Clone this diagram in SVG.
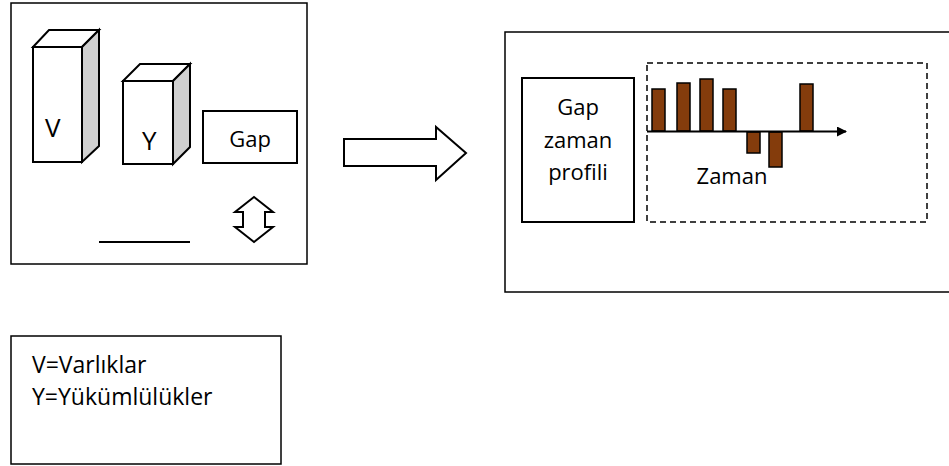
<svg xmlns="http://www.w3.org/2000/svg" width="949" height="466" viewBox="0 0 949 466">
<defs>
<style>
.box{fill:#fff;stroke:#000;stroke-width:1.5}
.sh{fill:#fff;stroke:#000;stroke-width:2;stroke-linejoin:miter}
.side{fill:#d0d0d0;stroke:#000;stroke-width:2}
.bar{fill:#843C0C;stroke:#000;stroke-width:1.5}
.t{font-family:"Open Sans","Noto Sans",sans-serif;fill:#000}
</style>
<marker id="ah" markerWidth="10" markerHeight="10" refX="9" refY="5" orient="auto" markerUnits="userSpaceOnUse">
<path d="M0,0 L10,5 L0,10 Z" fill="#000"/>
</marker>
</defs>
<rect width="949" height="466" fill="#fff"/>

<g id="left-panel">
<rect class="box" x="11" y="3" width="296" height="261"/>
</g>

<g id="box-V">
<path class="sh" d="M33,47 L49,30 L99,30 L82,47 Z"/>
<path class="side" d="M82,47 L99,30 L99,146 L82,162 Z"/>
<rect class="sh" x="33" y="47" width="49" height="115"/>
<text class="t" x="45" y="137" font-size="26">V</text>
</g>

<g id="box-Y">
<path class="sh" d="M123,81 L140,64 L190,64 L173,81 Z"/>
<path class="side" d="M173,81 L190,64 L190,147 L173,164 Z"/>
<rect class="sh" x="123" y="81" width="50" height="83"/>
<text class="t" x="142" y="150" font-size="26">Y</text>
</g>

<g id="box-Gap">
<rect class="sh" x="203" y="111" width="94" height="52"/>
<text class="t" x="250" y="147" font-size="22" text-anchor="middle">Gap</text>
</g>

<g id="updown-arrow">
<path class="sh" d="M254,197 L273,212 L265,212 L265,227 L273,227 L254,242 L235,227 L243,227 L243,212 L235,212 Z"/>
</g>

<g id="baseline">
<line x1="99" y1="242" x2="190" y2="242" stroke="#000" stroke-width="2"/>
</g>

<g id="big-arrow">
<path class="sh" d="M344,139 L436,139 L436,127 L466,153 L436,180 L436,166 L344,166 Z"/>
</g>

<g id="right-panel">
<rect class="box" x="505" y="32" width="460" height="260"/>
</g>

<g id="profile-box">
<rect class="sh" x="522" y="78" width="112" height="144"/>
<text class="t" font-size="22" text-anchor="middle"><tspan x="578" y="115">Gap</tspan><tspan x="578" y="148">zaman</tspan><tspan x="578" y="180">profili</tspan></text>
</g>

<g id="chart">
<rect x="647" y="63" width="280" height="159" fill="none" stroke="#000" stroke-width="1.5" stroke-dasharray="6,4"/>
<rect class="bar" x="652" y="89" width="13" height="42"/>
<rect class="bar" x="677" y="83" width="13" height="48"/>
<rect class="bar" x="700" y="79" width="13" height="52"/>
<rect class="bar" x="723" y="89" width="13" height="42"/>
<rect class="bar" x="747" y="132" width="13" height="21"/>
<rect class="bar" x="769" y="132" width="13" height="35"/>
<rect class="bar" x="800" y="84" width="13" height="47"/>
<text class="t" x="732" y="184" font-size="22" text-anchor="middle">Zaman</text>
</g>

<g id="connectors">
<line x1="647" y1="131.5" x2="846" y2="131.5" stroke="#000" stroke-width="2" marker-end="url(#ah)"/>
</g>

<g id="legend">
<rect class="box" x="11" y="336" width="270" height="128"/>
<text class="t" font-size="23"><tspan x="32" y="373">V=Varlıklar</tspan><tspan x="32" y="405">Y=Yükümlülükler</tspan></text>
</g>
</svg>
